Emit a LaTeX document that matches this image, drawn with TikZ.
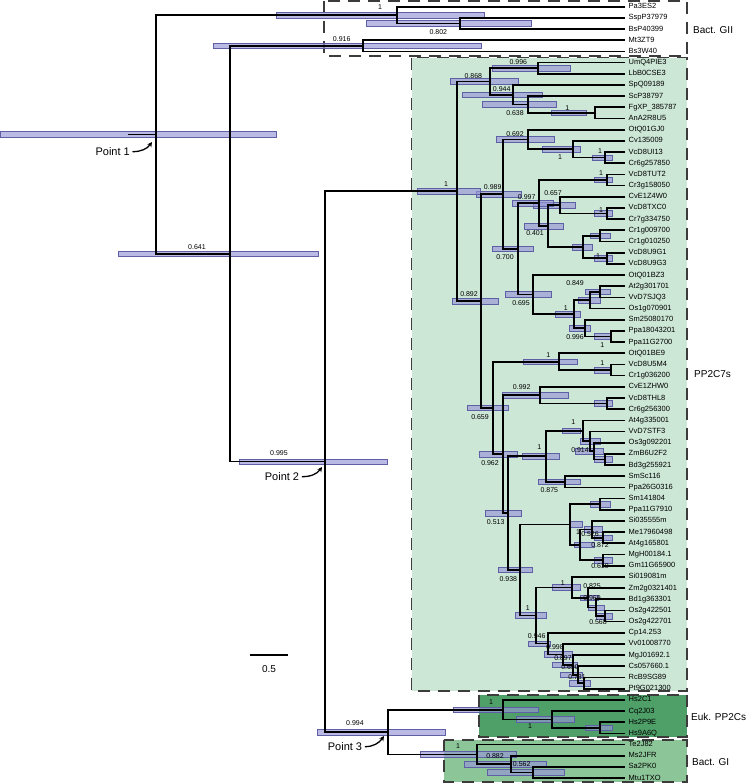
\documentclass[tikz,border=0pt]{standalone}
\usepackage{fontspec}
\setmainfont{Liberation Sans}
\usetikzlibrary{calc,arrows.meta}
\definecolor{barfill}{RGB}{150,150,215}
\definecolor{barline}{RGB}{95,95,165}
\definecolor{gA}{RGB}{205,231,214}
\definecolor{gB}{RGB}{78,160,104}
\definecolor{gC}{RGB}{140,198,152}
\definecolor{dashc}{RGB}{60,60,60}
\pgfdeclarelayer{bg}
\pgfdeclarelayer{bars}
\pgfsetlayers{bg,bars,main}
\tikzset{
  br/.style={line width=1.7pt, line join=miter, black},
  bar/.style={fill=barfill, fill opacity=0.65, draw=barline, line width=0.6pt},
  leaf/.style={anchor=west, inner xsep=3.5pt, inner ysep=0pt, font=\fontsize{7.5}{8}\selectfont, text height=5.4pt, text depth=1.4pt},
  sup/.style={inner sep=0pt, font=\fontsize{7}{8}\selectfont},
  grp/.style={anchor=west, inner sep=0pt, font=\fontsize{10}{12}\selectfont},
  pt/.style={inner sep=0pt, font=\fontsize{11}{13}\selectfont},
  box/.style={draw=dashc, line width=1.2pt, dash pattern=on 12pt off 8pt},
  parrow/.style={line width=1.3pt, -{Stealth[length=5pt,width=5pt]}}
}
\newcommand\inode[6]{%
  \coordinate (#1m) at ($(#3)!0.5!(#4)$);
  \coordinate (#1x) at (#2,0);
  \coordinate (#1) at (#1x |- #1m);
  \coordinate (#1b) at (#5,0);
  \coordinate (#1c) at (#6,0);
  \begin{pgfonlayer}{bars}
  \draw[bar] ($(#1b |- #1)+(0,-2.8)$) rectangle ($(#1c |- #1)+(0,2.8)$);
  \end{pgfonlayer}
  \draw[br] (#3) -| (#1) |- (#4);
}
\begin{document}
\begin{tikzpicture}[x=1pt,y=-1pt]
\useasboundingbox (0,0) rectangle (747,783);
\begin{pgfonlayer}{bg}
\fill[white] (0,0) rectangle (747,783);
\draw[box] (324,1) rectangle (687,56);
\draw[box, fill=gA] (411.7,57.7) rectangle (687,691);
\draw[box, fill=gB] (479,695) rectangle (687,737);
\draw[box, fill=gC] (444,740) rectangle (687,782);
\end{pgfonlayer}
\foreach \t [count=\i] in {Pa3ES2,SspP37979,BsP40399,Mt3ZT9,Bs3W40,UmQ4PIE3,LbB0CSE3,SpQ09189,ScP38797,FgXP\_385787,AnA2R8U5,OtQ01GJ0,Cv135009,VcD8UI13,Cr6g257850,VcD8TUT2,Cr3g158050,CvE1Z4W0,VcD8TXC0,Cr7g334750,Cr1g009700,Cr1g010250,VcD8U9G1,VcD8U9G3,OtQ01BZ3,At2g301701,VvD7SJQ3,Os1g070901,Sm25080170,Ppa18043201,Ppa11G2700,OtQ01BE9,VcD8U5M4,Cr1g036200,CvE1ZHW0,VcD8THL8,Cr6g256300,At4g335001,VvD7STF3,Os3g092201,ZmB6U2F2,Bd3g255921,SmSc116,Ppa26G0316,Sm141804,Ppa11G7910,Si035555m,Me17960498,At4g165801,MgH00184.1,Gm11G65900,Si019081m,Zm2g0321401,Bd1g363301,Os2g422501,Os2g422701,Cp14.253,Vv01008770,MgJ01692.1,Cs057660.1,RcB9SG89,Pt9G021300,Hs2C1,Cq2J03,Hs2P9E,Hs9A6Q,Te2J82,Ms2JFR,Sa2PK0,Mtu1TXO}
  \node[leaf] (L\i) at (625,{6.7+(\i-1)*11.18}) {\t};
% Bact GII
\inode{g2}{460}{L2.west}{L3.west}{366.7}{531.7}
\inode{g1}{396.7}{L1.west}{g2}{276.7}{484.3}
\inode{g3}{363}{L4.west}{L5.west}{213}{481.7}
% fungi
\inode{f1}{538.3}{L6.west}{L7.west}{492}{570}
\inode{f4}{595}{L10.west}{L11.west}{551.7}{586}
\inode{f3}{527.7}{L9.west}{f4}{482}{556.7}
\inode{f2}{512.7}{L8.west}{f3}{462.7}{542.7}
\inode{f0}{490}{f1}{f2}{450.7}{518.3}
% chlorophytes
\inode{c3}{605}{L14.west}{L15.west}{592}{612}
\inode{c2}{572.7}{L13.west}{c3}{542}{580}
\inode{c1}{528.3}{L12.west}{c2}{496}{554.3}
\inode{c5}{607}{L16.west}{L17.west}{594}{612}
\inode{c7}{607}{L19.west}{L20.west}{594}{612}
\inode{c6}{560}{L18.west}{c7}{533}{575}
\inode{c9}{600}{L21.west}{L22.west}{590}{610}
\inode{c10}{607}{L23.west}{L24.west}{594}{612}
\inode{c8}{583}{c9}{c10}{572.7}{592}
\inode{c11}{548.3}{c6}{c8}{524}{563}
\inode{c4}{539.3}{c5}{c11}{512.7}{553.3}
% land plants
\inode{p2}{600}{L26.west}{L27.west}{585}{610}
\inode{p3}{590}{p2}{L28.west}{578}{600}
\inode{p5}{611}{L30.west}{L31.west}{594}{610}
\inode{p4}{585}{L29.west}{p5}{569}{590}
\inode{p1}{574.3}{p3}{p4}{555}{580}
\inode{c12}{533.3}{L25.west}{p1}{505.7}{551.7}
\inode{c13}{517.7}{c4}{c12}{492}{533}
\inode{c0}{503.3}{c1}{c13}{476.7}{521.7}
% lower
\inode{d2}{611}{L33.west}{L34.west}{594}{611.7}
\inode{d1}{559}{L32.west}{d2}{523}{577.7}
\inode{e2}{607}{L36.west}{L37.west}{594}{612}
\inode{e1}{540}{L35.west}{e2}{502.7}{568.3}
\inode{a4}{605}{L41.west}{L42.west}{594}{612}
\inode{a3}{594}{L40.west}{a4}{575}{603}
\inode{a2}{590}{L39.west}{a3}{580}{600}
\inode{a1}{583}{L38.west}{a2}{562.7}{580}
\inode{a5}{565}{L43.west}{L44.west}{538}{580}
\inode{a0}{545.7}{a1}{a5}{522.7}{559.3}
\inode{b1}{600}{L45.west}{L46.west}{590}{610}
\inode{b3}{603}{L48.west}{L49.west}{594}{612}
\inode{b2}{592}{L47.west}{b3}{584}{602}
\inode{b4}{603}{L50.west}{L51.west}{594}{612}
\inode{b5}{580}{b2}{b4}{574}{594}
\inode{b0}{570}{b1}{b5}{569}{582}
\inode{m3}{605}{L55.west}{L56.west}{596}{612}
\inode{m2}{596}{L54.west}{m3}{588}{604}
\inode{m1}{588}{L53.west}{m2}{580}{598}
\inode{m0}{571.7}{L52.west}{m1}{552}{580}
\inode{u4}{584}{L61.west}{L62.west}{569}{590}
\inode{u3}{578}{L60.west}{u4}{560}{582}
\inode{u2}{572.7}{L59.west}{u3}{552}{577}
\inode{u1}{562.7}{L58.west}{u2}{544}{572.7}
\inode{u0}{548.3}{L57.west}{u1}{528}{550}
\inode{n2}{535.7}{m0}{u0}{515}{546.7}
\inode{n1}{520}{b0}{n2}{498}{532.7}
\inode{s0}{508.3}{a0}{n1}{485}{521.7}
\inode{q0}{503.3}{e1}{s0}{479.3}{517.3}
\inode{r0}{493.3}{d1}{q0}{467}{508}
\inode{k0}{481}{c0}{r0}{452.3}{498.3}
\inode{P}{456.7}{f0}{k0}{417}{480}
% Euk
\inode{E3}{600}{L65.west}{L66.west}{585}{612}
\inode{E2}{552.3}{L64.west}{E3}{516}{574}
\inode{E1}{503}{L63.west}{E2}{453}{538}
% Bact GI
\inode{C}{533.3}{L69.west}{L70.west}{487.7}{564.3}
\inode{B}{511}{L68.west}{C}{464}{546.7}
\inode{A}{476.7}{L67.west}{B}{420.7}{516.7}
% deep
\inode{pthree}{388}{E1}{A}{317.7}{445}
\inode{ptwo}{325}{P}{pthree}{239}{387}
\inode{nsix}{230}{g3}{ptwo}{118}{318}
\inode{root}{156}{g1}{nsix}{0}{276}
\coordinate (rs) at (128,0 |- root);
\draw[br] (rs) -- (root);
% support values
\foreach \x/\y/\s in {380/7.3/1, 438.3/32.3/0.802, 341.7/39.3/0.916,
  518.3/62.3/0.996, 473.3/75.7/0.868, 501.7/89.3/0.944, 515/113.3/0.638, 567.3/107.7/1,
  515/134/0.692, 560/156.7/1, 600/151/1, 601/173/1, 601/210/1, 598/256/1,
  446/184/1, 492.7/187.3/0.989, 526.7/197.3/0.997, 553/192.7/0.657, 535/233.3/0.401,
  505/257.3/0.700, 469/294/0.892, 521/302.7/0.695,
  575/283/0.849, 565.7/307.7/1, 575/336.7/0.996, 602.3/345/1,
  548.3/355/1, 602.3/362.7/1, 521.7/386.7/0.992, 480/416.7/0.659,
  573.3/422.3/1, 539.3/447.3/1, 490/463.3/0.962, 549.3/490/0.875, 580/450/0.914,
  578/531.7/1, 590/534/0.526, 600/545.5/0.872, 600/566.5/0.619,
  495.7/521.7/0.513, 508.3/579/0.938, 562.7/583.3/1, 527.7/608.3/1,
  592/586/0.825, 592/598/0.969, 598/622/0.568,
  536.7/636/0.946, 555/647/0.998, 563/658/0.897, 570/667/0.690, 577/677/0.731,
  491/702/1, 530/726/1, 458/746/1, 495/756/0.882, 521.7/764.3/0.562,
  355/722.7/0.994, 279/453/0.995, 197/247/0.641}
  \node[sup] at (\x,\y) {\s};
% group labels
\node[grp] (gii) at (693,30) {Bact. GII};
\node[grp] (pp7) at (694,374) {PP2C7s};
\node[grp] (euk) at (691,717) {Euk. PP2Cs};
\node[grp] (gi) at (692,762) {Bact. GI};
% points
\node[pt, anchor=east] (pt1) at (130,151.7) {Point 1};
\node[pt, anchor=east] (pt2) at (299.3,476.7) {Point 2};
\node[pt, anchor=east] (pt3) at (362.3,746.7) {Point 3};
\coordinate (pt1e) at (152,142);
\coordinate (pt2e) at (322,467);
\coordinate (pt3e) at (384,736);
\draw[parrow] ([xshift=2.5pt]pt1.east) to[out=0,in=235] (pt1e);
\draw[parrow] ([xshift=2.5pt]pt2.east) to[out=0,in=235] (pt2e);
\draw[parrow] ([xshift=2.5pt]pt3.east) to[out=0,in=235] (pt3e);
% scale bar
\coordinate (sb1) at (250,655);
\coordinate (sb2) at (288,655);
\draw[line width=1.3pt] (sb1) -- (sb2) node[midway, below=10pt, inner sep=0pt, font=\fontsize{10}{12}\selectfont] (sbl) {0.5};
\end{tikzpicture}
\end{document}
